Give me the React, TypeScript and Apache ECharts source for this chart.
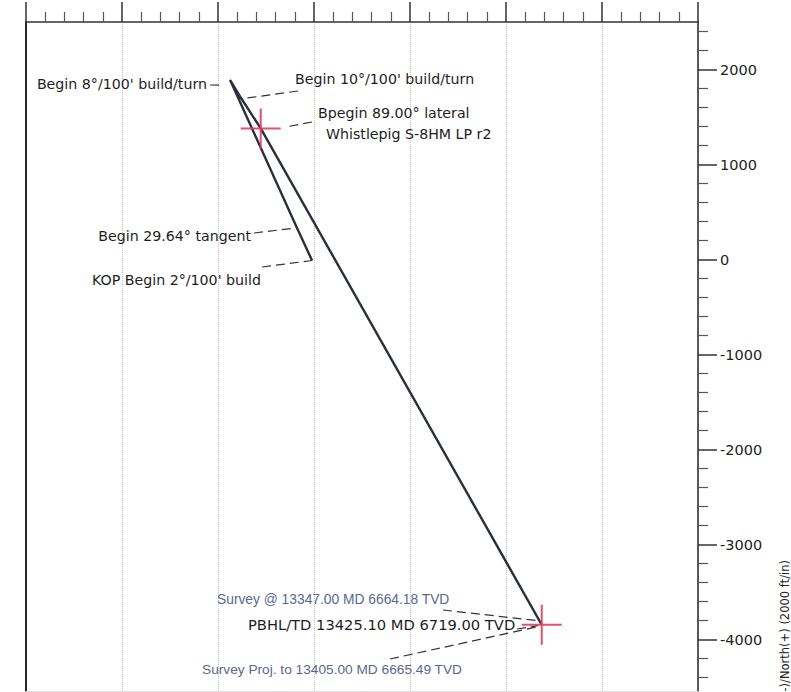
import React, { useEffect, useRef } from "react";
import * as echarts from "echarts";

// Plan view trajectory (East(-)/West(+) x, South(-)/North(+) y), feet
const planEast = [-20, -177, -854, -875, -760, -555, 2372];
const planNorth = [-10, 332, 1845, 1890, 1700, 1380, -3843];
// target crosses
const targetEast = [-555, 2372];
const targetNorth = [1380, -3843];
// survey annotation anchors
const surveyEast = [2350, 2345];
const surveyNorth = [-3800, -3865];

const northTicks = [-4000, -3000, -2000, -1000, 0, 1000, 2000];

const labelTexts = {
  build8: "Begin 8°/100' build/turn",
  build10: "Begin 10°/100' build/turn",
  lateral: "Bpegin 89.00° lateral",
  target: "Whistlepig S-8HM LP r2",
  tangent: "Begin 29.64° tangent",
  kop: "KOP Begin 2°/100' build",
  surveyAt: "Survey @ 13347.00 MD 6664.18 TVD",
  pbhl: "PBHL/TD 13425.10 MD 6719.00 TVD",
  surveyProj: "Survey Proj. to 13405.00 MD 6665.49 TVD",
  axisName: "South(-)/North(+) (2000 ft/in)",
};

const LINE = "#2b2f3d";
const AXIS = "#333333";
const RED = "#e23d5c";
const SLATE = "#5a6890";
const BLACKFONT = "DejaVu Sans";
const SLATEFONT = "Liberation Sans";

export default function App() {
  const ref = useRef<HTMLDivElement>(null);

  useEffect(() => {
    if (!ref.current) return;
    const chart = echarts.init(ref.current, undefined, { renderer: "svg" });

    const path = planEast.map((e, i) => [e, planNorth[i]]);
    const targets = targetEast.map((e, i) => [e, targetNorth[i]]);

    chart.setOption({
      animation: false,
      backgroundColor: "#ffffff",
      grid: { left: 26, right: 93, top: 22, bottom: 1, containLabel: false },
      xAxis: [
        {
          type: "value",
          position: "top",
          min: -3000,
          max: 4000,
          interval: 1000,
          axisLine: { show: true, onZero: false, lineStyle: { color: AXIS, width: 1.6 } },
          axisTick: { show: true, inside: false, length: 20, lineStyle: { color: AXIS, width: 1.5 } },
          minorTick: { show: true, splitNumber: 5, length: 10, lineStyle: { color: "#555", width: 1.2 } },
          axisLabel: { show: false },
          splitLine: { show: true, lineStyle: { type: "dotted", color: "#c4c4c4", width: 1 } },
        },
        {
          type: "value",
          position: "bottom",
          min: -3000,
          max: 4000,
          interval: 1000,
          axisLine: { show: true, onZero: false, lineStyle: { color: "#dddddd", width: 1 } },
          axisTick: { show: false },
          axisLabel: { show: false },
          splitLine: { show: false },
        },
      ],
      yAxis: [
        {
          type: "value",
          position: "right",
          min: -4540,
          max: 2500,
          splitNumber: 7,
          axisLine: { show: true, onZero: false, lineStyle: { color: AXIS, width: 1.6 } },
          axisTick: {
            show: true,
            inside: false,
            length: 19,
            customValues: northTicks,
            lineStyle: { color: AXIS, width: 1.5 },
          },
          minorTick: { show: true, splitNumber: 5, length: 10, lineStyle: { color: "#555", width: 1.2 } },
          axisLabel: {
            show: true,
            customValues: northTicks,
            margin: 22,
            color: "#222",
            fontFamily: BLACKFONT,
            fontSize: 14.5,
            formatter: (v: number) => String(v),
          },
          splitLine: { show: false },
        },
        {
          type: "value",
          position: "left",
          min: -4540,
          max: 2500,
          splitNumber: 7,
          axisLine: { show: true, onZero: false, lineStyle: { color: "#2a2a2a", width: 2 } },
          axisTick: { show: false },
          axisLabel: { show: false },
          splitLine: { show: false },
        },
      ],
      series: [
        {
          type: "line",
          xAxisIndex: 0,
          yAxisIndex: 0,
          data: path,
          symbol: "none",
          lineStyle: { color: LINE, width: 2.4 },
          z: 3,
        },
        {
          type: "scatter",
          xAxisIndex: 0,
          yAxisIndex: 0,
          data: targets,
          symbol: "path://M-1,-20L1,-20L1,20L-1,20Z M-20,-1L20,-1L20,1L-20,1Z",
          symbolSize: [40, 40],
          itemStyle: { color: RED, opacity: 0.9 },
          z: 4,
        },
      ],
    });

    const px = (e: number, n: number) =>
      chart.convertToPixel({ xAxisIndex: 0, yAxisIndex: 0 }, [e, n]) as number[];

    const kop = px(planEast[0], planNorth[0]);
    const tan = px(planEast[1], planNorth[1]);
    const b8 = px(planEast[2], planNorth[2]);
    const b10 = px(planEast[4], planNorth[4]);
    const lp = px(targetEast[0], targetNorth[0]);
    const pbhl = px(planEast[6], planNorth[6]);
    const sAt = px(surveyEast[0], surveyNorth[0]);
    const sPr = px(surveyEast[1], surveyNorth[1]);

    const dash = (x1: number, y1: number, x2: number, y2: number) => ({
      type: "line",
      shape: { x1, y1, x2, y2 },
      style: { stroke: "#333", lineWidth: 1.2, lineDash: [9, 5] },
      z: 10,
    });
    const txt = (
      text: string,
      x: number,
      y: number,
      align: string,
      color = "#1e1e1e",
      font = BLACKFONT,
      size = 14.2
    ) => ({
      type: "text",
      x,
      y,
      style: {
        text,
        fill: color,
        fontFamily: font,
        fontSize: size,
        align,
        verticalAlign: "middle",
      },
      z: 10,
    });

    chart.setOption({
      graphic: [
        txt(labelTexts.build8, 207, 84, "right"),
        dash(210, 85, b8[0] - 8, b8[1] + 1),
        txt(labelTexts.build10, 295, 79, "left"),
        dash(298, 91, b10[0] + 6, b10[1]),
        txt(labelTexts.lateral, 318, 113, "left"),
        txt(labelTexts.target, 326, 134, "left"),
        dash(312, 122, lp[0] + 25, lp[1] - 1.5),
        txt(labelTexts.tangent, 251, 236, "right"),
        dash(254, 233, tan[0] - 2, tan[1]),
        txt(labelTexts.kop, 92, 280, "left"),
        dash(262, 267, kop[0], kop[1]),
        txt(labelTexts.surveyAt, 217, 599, "left", SLATE, SLATEFONT, 13.8),
        dash(443, 610, sAt[0] - 2, sAt[1]),
        txt(labelTexts.pbhl, 248, 624, "left", "#1e1e1e", BLACKFONT, 14.7),
        dash(517, 629, pbhl[0] - 4, pbhl[1] + 1),
        txt(labelTexts.surveyProj, 202, 669, "left", SLATE, SLATEFONT, 13.7),
        dash(390, 659, sPr[0] - 2, sPr[1]),
        {
          type: "text",
          x: 785,
          y: 560,
          rotation: Math.PI / 2,
          style: {
            text: labelTexts.axisName,
            fill: "#222",
            fontFamily: BLACKFONT,
            fontSize: 11.5,
            align: "right",
            verticalAlign: "middle",
          },
          z: 10,
        },
      ],
    });

    return () => chart.dispose();
  }, []);

  return (
    <div
      ref={ref}
      style={{ position: "fixed", left: 0, top: 0, width: 791, height: 692, background: "#fff" }}
    />
  );
}
